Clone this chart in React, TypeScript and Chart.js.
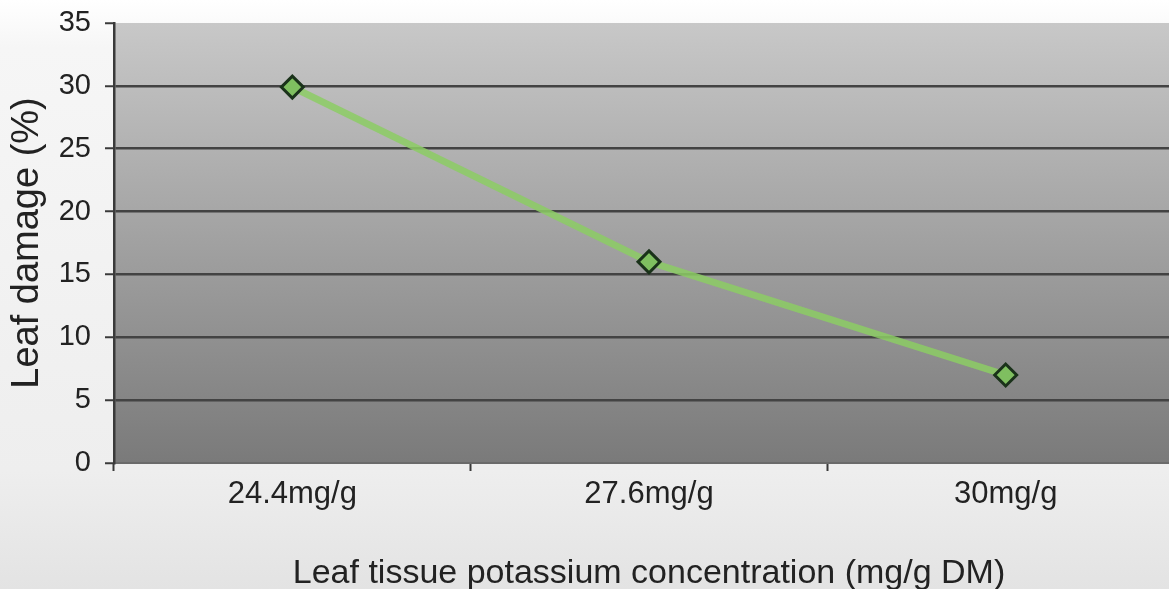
import React, { useEffect, useRef } from "react";
import { Chart, registerables } from "chart.js";

Chart.register(...registerables);

const categories = ["24.4mg/g", "27.6mg/g", "30mg/g"];
const leafDamage = [29.9, 16.0, 7.0];
const yTicks = [0, 5, 10, 15, 20, 25, 30, 35];
const xTitle = "Leaf tissue potassium concentration (mg/g DM)";
const yTitle = "Leaf damage (%)";

const FONT = "'Liberation Sans', Arial, sans-serif";

const plotBg = {
  id: "plotBg",
  beforeDraw(chart: any) {
    const { ctx, chartArea } = chart;
    const { left, top, right, bottom } = chartArea;
    const g = ctx.createLinearGradient(0, top, 0, bottom);
    g.addColorStop(0, "#c8c8c8");
    g.addColorStop(1, "#7a7a7a");
    ctx.save();
    ctx.fillStyle = g;
    ctx.fillRect(left, top, right - left, bottom - top);
    ctx.restore();
  },
};

export default function App() {
  const ref = useRef<HTMLCanvasElement | null>(null);
  useEffect(() => {
    document.body.style.margin = "0";
    const canvas = ref.current!;
    const chart = new Chart(canvas, {
      type: "line",
      data: {
        labels: categories,
        datasets: [
          {
            data: leafDamage,
            borderColor: "rgba(140,205,100,0.85)",
            borderWidth: 7,
            backgroundColor: "#86c466",
            pointStyle: "rectRot",
            pointRadius: 11,
            pointBorderColor: "#1a321a",
            pointBorderWidth: 3,
            pointBackgroundColor: "#7fbf60",
            tension: 0,
          },
        ],
      },
      plugins: [plotBg],
      options: {
        responsive: false,
        animation: false,
        devicePixelRatio: 1,
        layout: { autoPadding: false, padding: { top: 23, right: 0, left: 0, bottom: 0 } },
        plugins: { legend: { display: false }, title: { display: false }, tooltip: { enabled: false } },
        scales: {
          x: {
            type: "category",
            offset: true,
            afterFit: (s: any) => {
              s.height = 126;
              s.paddingLeft = 0;
              s.paddingRight = 0;
            },
            grid: {
              offset: true,
              drawOnChartArea: false,
              drawTicks: true,
              tickLength: 8,
              tickColor: "#3a3a3a",
              tickWidth: 2,
            },
            border: { display: true, color: "#6a6a6a", width: 2 },
            ticks: {
              color: "#222222",
              font: { family: FONT, size: 31 },
              padding: 5,
              maxRotation: 0,
              autoSkip: false,
            },
            title: {
              display: true,
              text: xTitle,
              color: "#222222",
              font: { family: FONT, size: 34, lineHeight: 1 },
              padding: { top: 0, bottom: -2 },
            },
          },
          y: {
            min: 0,
            max: 35,
            afterFit: (s: any) => {
              s.width = 114;
              s.paddingTop = 0;
              s.paddingBottom = 0;
            },
            afterBuildTicks: (s: any) => {
              s.ticks = yTicks.map((v) => ({ value: v }));
            },
            grid: {
              color: (c: any) =>
                c.tick && (c.tick.value === 0 || c.tick.value === 35) ? "rgba(0,0,0,0)" : "#434343",
              lineWidth: 2.5,
              tickColor: "#3a3a3a",
              tickLength: 9,
              tickWidth: 2,
            },
            border: { display: true, color: "#3a3a3a", width: 2.5 },
            ticks: {
              color: "#222222",
              font: { family: FONT, size: 29 },
              padding: 14,
            },
            title: {
              display: true,
              text: yTitle,
              color: "#222222",
              font: { family: FONT, size: 38, lineHeight: 1 },
              padding: { top: 9, bottom: 0 },
            },
          },
        },
      },
    });
    return () => chart.destroy();
  }, []);

  return (
    <div
      style={{
        position: "fixed",
        left: 0,
        top: 0,
        width: 1169,
        height: 589,
        overflow: "hidden",
        background: "linear-gradient(to bottom, #ffffff 0%, #f6f6f6 8%, #eeeeee 80%, #e3e3e3 100%)",
      }}
    >
      <canvas ref={ref} width={1184} height={589} style={{ display: "block" }} />
    </div>
  );
}
